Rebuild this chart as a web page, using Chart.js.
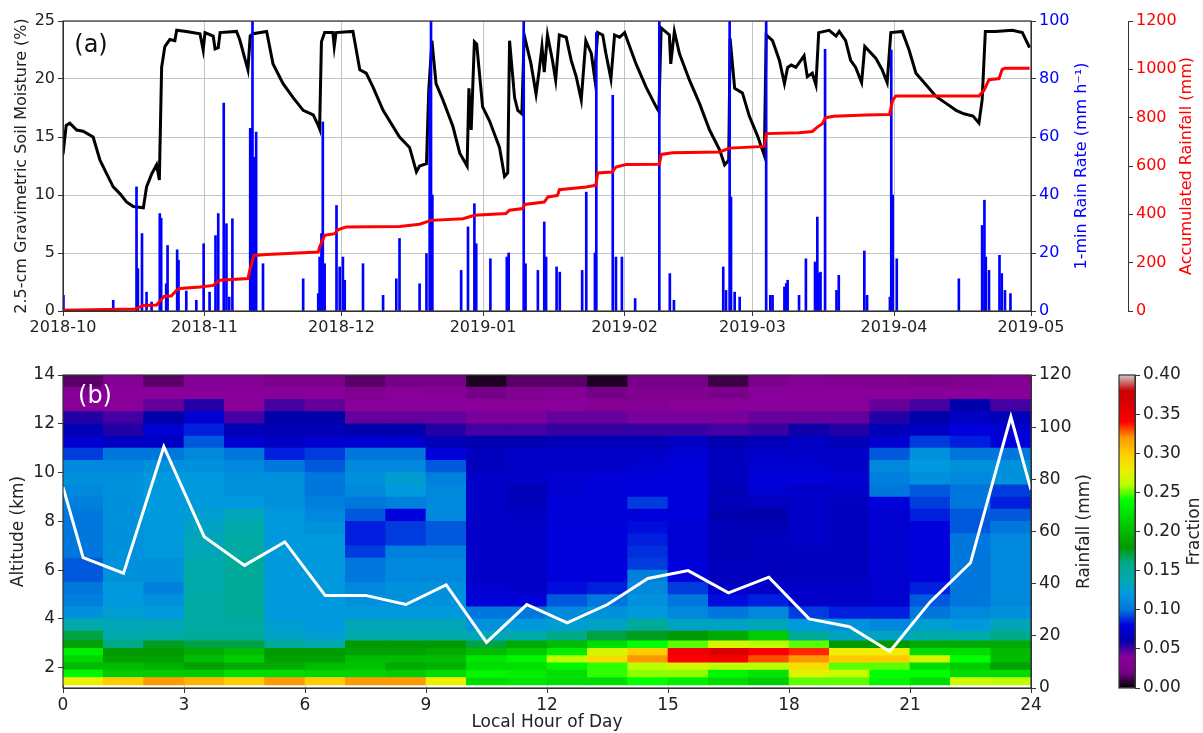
<!DOCTYPE html>
<html>
<head>
<meta charset="utf-8">
<script src="https://cdn.jsdelivr.net/npm/chart.js@4.4.0/dist/chart.umd.min.js"></script>
<style>
  html, body { margin: 0; padding: 0; background: #fff; }
  body { width: 1203px; height: 733px; position: relative; overflow: hidden; }
  canvas { position: absolute; }
  #top { left: 0; top: 0; }
  #bottom { left: 0; top: 345px; }
  #cbar { left: 1100px; top: 345px; }
</style>
</head>
<body>
<canvas id="top" width="1203" height="345"></canvas>
<canvas id="bottom" width="1100" height="388"></canvas>
<canvas id="cbar" width="103" height="388"></canvas>
<script>
// ---- panel (a): days since 2018-10-01 ----
const monthDays = [0, 31, 61, 92, 123, 151, 182, 212];
const monthLabels = ['2018-10', '2018-11', '2018-12', '2019-01', '2019-02', '2019-03', '2019-04', '2019-05'];

const smDay = [0, 0.7, 1.5, 3, 4.4, 6.6, 8.1, 9.6, 11, 12.5, 13.9, 15.4, 17.6, 18.3, 19.4, 20.5, 21.1, 21.6, 22.3, 23.4,
  24.5, 24.9, 27, 30, 30.7, 31.1, 32.9, 33.3, 34, 34.4, 38, 38.7, 39.8, 40.5, 41, 41.6, 44.6, 46, 48.2, 50.4,
  52.6, 54.8, 55.9, 56.2, 56.6, 57.3, 59.1, 59.4, 59.8, 63.5, 65, 66.4, 67.9, 70.1, 73.7, 75.9, 77.4, 78.1, 79.6, 80.1,
  80.8, 81.7, 83.2, 85.4, 86.9, 88.5, 88.9, 89.4, 90.1, 90.6, 91.9, 93.4, 95.6, 96.7, 97.4, 97.8, 98.9, 99.6, 100.5, 101,
  102.5, 103.6, 104.3, 104.9, 105.4, 106.1, 107.2, 107.9, 108.7, 110.2, 111.3, 112.4, 113.5, 114.5, 115.7, 116.4, 117.1, 118.2, 118.9, 120,
  120.8, 121.9, 123, 124.1, 125.5, 127.7, 129.9, 130.5, 131, 132.8, 133.1, 133.9, 135, 137.2, 139.4, 141.6, 143.8, 144.9, 145.8, 146.1,
  147.1, 148.8, 150.3, 152.1, 153.6, 154, 155.4, 156.9, 158, 158.7, 159.5, 160.5, 161.6, 162.3, 163, 164.1, 164.9, 165.5, 167.8, 169.3,
  170, 171.4, 172.5, 173.6, 174.9, 175.6, 178, 179.4, 180.5, 181.3, 183.8, 185.3, 186.8, 189, 191.2, 193.4, 195.6, 197.3, 199.3, 200.6,
  201.3, 202, 204.2, 207.9, 210.1, 211.7];
const smValue = [13.5, 16.0, 16.2, 15.6, 15.5, 15.0, 13.0, 11.8, 10.7, 10.1, 9.4, 9.0, 8.9, 10.7, 11.8, 12.6, 11.3, 21.0, 22.8, 23.4,
  23.3, 24.2, 24.1, 23.9, 22.5, 24.0, 23.7, 22.6, 22.7, 24.0, 24.1, 23.4, 21.8, 20.8, 23.7, 23.9, 24.1, 21.3, 19.6, 18.4,
  17.3, 16.9, 16.0, 15.7, 23.2, 24.0, 24.0, 22.8, 24.0, 24.1, 20.8, 20.5, 19.3, 17.3, 15.0, 14.1, 12.0, 12.5, 12.7, 19.0,
  23.3, 19.6, 18.2, 15.9, 13.6, 12.5, 19.2, 15.6, 23.2, 23.0, 17.6, 16.4, 14.1, 11.6, 11.9, 23.3, 18.4, 17.3, 17.0, 23.8,
  21.3, 18.7, 20.8, 22.8, 20.6, 23.8, 21.6, 19.9, 23.8, 23.6, 21.6, 20.2, 18.2, 23.3, 22.2, 20.2, 24.0, 23.8, 22.2, 20.0,
  23.8, 23.6, 24.0, 22.8, 21.3, 19.3, 17.6, 17.2, 24.4, 23.8, 21.3, 24.1, 22.2, 19.9, 17.9, 15.6, 13.9, 12.6, 13.0, 23.5,
  19.2, 18.8, 16.8, 15.1, 13.4, 23.8, 23.3, 21.6, 19.6, 21.0, 21.2, 21.0, 21.6, 22.0, 20.2, 20.5, 19.5, 24.0, 24.2, 23.7,
  24.1, 23.3, 21.6, 21.0, 19.7, 22.8, 21.8, 20.8, 19.7, 24.0, 24.1, 22.5, 20.5, 19.5, 18.5, 17.9, 17.3, 17.0, 16.8, 16.2,
  18.2, 24.1, 24.1, 24.2, 24.0, 22.7];

const accDay = [0, 15.8, 17.6, 20.5, 21.4, 22.1, 23.7, 24.9, 25.6, 30, 32.9, 34.3, 40.5, 40.9, 41.8, 44.6, 55.9, 56.2, 57.3, 59.5,
  60.2, 62, 73.7, 78.1, 80.6, 87.6, 90.1, 97, 97.8, 100.7, 101.1, 105.4, 106.2, 108.3, 108.7, 114.6, 116.7, 117.1, 120.3, 121.1,
  123.3, 130.6, 131, 133.5, 143.8, 146, 153.6, 154, 161.2, 164.1, 165.2, 166.3, 167, 168.8, 175.8, 181, 181.7, 182.4, 200.6, 201.7,
  202.8, 205, 205.7, 206.3, 211.7];
const accValue = [3, 8, 23, 25, 44, 60, 62, 86, 93, 99, 106, 127, 134, 168, 230, 234, 244, 265, 313, 320,
  336, 348, 350, 359, 375, 382, 396, 403, 417, 424, 441, 451, 472, 478, 502, 513, 520, 571, 575, 596,
  606, 607, 648, 655, 658, 674, 681, 734, 738, 743, 761, 775, 800, 806, 811, 813, 872, 890, 890, 913,
  957, 962, 1000, 1005, 1005];

const rateDay = [0.1, 11, 16.1, 16.4, 17.3, 18.3, 19.4, 21.2, 21.5, 22.6, 22.9, 25, 25.3, 27, 29.2, 30.8, 32.1, 33.4, 34, 35.2,
  35.8, 36.4, 37.1, 41, 41.3, 41.5, 41.8, 42.3, 43.8, 52.6, 55.9, 56.2, 56.6, 56.9, 57.3, 59.9, 60.6, 61.3, 61.7, 65.7,
  70.1, 73, 73.7, 78.1, 79.6, 80.3, 80.6, 80.9, 87.2, 88.7, 90.1, 90.5, 93.6, 97.2, 97.6, 100.9, 101.3, 104, 105.4, 105.8,
  108.1, 108.8, 113.7, 114.6, 116.5, 116.8, 120.4, 121.1, 122.4, 125.3, 130.6, 132.9, 133.8, 144.6, 145.2, 146, 146.3, 147.1, 148.2, 154,
  154.9, 155.4, 158, 158.4, 158.7, 161.2, 162.7, 164.7, 165.2, 165.5, 165.9, 166.9, 169.4, 169.9, 175.5, 176.1, 181.1, 181.4, 181.7, 182.6,
  196.2, 201.3, 201.8, 202.1, 202.8, 205.1, 205.6, 206.3, 207.5];
const rateValue = [5.4, 3.7, 42.8, 14.6, 26.7, 6.5, 3.1, 33.6, 32, 9.4, 22.6, 21.1, 17.5, 6.9, 3.7, 23.2, 6.5, 26, 33.6, 71.7,
  30.1, 4.8, 31.8, 63, 63, 100, 53, 61.7, 16.3, 11.1, 6, 18.6, 26.7, 65.2, 16.3, 36.4, 15.2, 18.6, 10.6, 16.3,
  5.4, 11.1, 25, 9.4, 19.8, 76.7, 100, 40, 14, 29, 37, 23.2, 18, 18.6, 20, 100, 16.3, 14, 30.7, 18.6,
  15.2, 13.4, 14, 41, 20, 96, 74.4, 18.6, 18.6, 4.3, 100, 12.9, 3.7, 15.2, 7.1, 100, 39.3, 6.5, 4.8, 100,
  5.4, 5.4, 8.3, 9.5, 10.6, 5.4, 18, 16.9, 32.4, 13, 13.4, 90.2, 7.1, 12.3, 20.7, 5.4, 4.8, 90, 40, 18,
  11.1, 29.5, 38.2, 18.6, 14, 19.2, 12.9, 7.1, 6];

// ---- panel (b) ----
const hourTicks = [0, 3, 6, 9, 12, 15, 18, 21, 24];
const altTicks = [2, 4, 6, 8, 10, 12, 14];
const hours = [0, 1, 2, 3, 4, 5, 6, 7, 8, 9, 10, 11, 12, 13, 14, 15, 16, 17, 18, 19, 20, 21, 22, 23];
const altEdges = [1.3, 1.6, 1.9, 2.2, 2.5, 2.8, 3.1, 3.5, 4.0, 4.5, 5.0, 5.5, 6.0, 6.5, 7.0, 7.5, 8.0, 8.5, 9.0, 9.5,
  10.0, 10.5, 11.0, 11.5, 12.0, 12.5, 13.0, 13.5, 14.0];
// fraction per hour (rows) and altitude bin (columns, bottom to top)
const fraction = [
  [0.28, 0.235, 0.20, 0.215, 0.23, 0.185, 0.17, 0.14, 0.115, 0.105, 0.10, 0.095, 0.095, 0.10, 0.10, 0.10, 0.10, 0.105, 0.11, 0.115, 0.11, 0.09, 0.075, 0.065, 0.055, 0.04, 0.035, 0.015],
  [0.30, 0.21, 0.20, 0.185, 0.18, 0.16, 0.14, 0.135, 0.125, 0.12, 0.12, 0.115, 0.115, 0.115, 0.115, 0.115, 0.115, 0.115, 0.115, 0.115, 0.11, 0.10, 0.07, 0.055, 0.05, 0.04, 0.04, 0.035],
  [0.32, 0.21, 0.195, 0.185, 0.18, 0.175, 0.145, 0.135, 0.12, 0.115, 0.105, 0.115, 0.115, 0.12, 0.12, 0.12, 0.12, 0.12, 0.12, 0.12, 0.115, 0.10, 0.07, 0.075, 0.06, 0.045, 0.04, 0.015],
  [0.31, 0.21, 0.185, 0.20, 0.19, 0.17, 0.15, 0.145, 0.145, 0.145, 0.14, 0.14, 0.14, 0.135, 0.135, 0.13, 0.125, 0.12, 0.12, 0.12, 0.115, 0.11, 0.095, 0.085, 0.075, 0.055, 0.04, 0.035],
  [0.30, 0.22, 0.19, 0.21, 0.20, 0.17, 0.15, 0.145, 0.15, 0.15, 0.15, 0.15, 0.15, 0.145, 0.145, 0.14, 0.135, 0.12, 0.115, 0.115, 0.11, 0.10, 0.075, 0.065, 0.05, 0.04, 0.04, 0.035],
  [0.32, 0.22, 0.19, 0.185, 0.18, 0.15, 0.13, 0.125, 0.12, 0.12, 0.12, 0.12, 0.12, 0.12, 0.12, 0.12, 0.12, 0.115, 0.115, 0.115, 0.10, 0.085, 0.07, 0.065, 0.06, 0.05, 0.04, 0.025],
  [0.30, 0.215, 0.20, 0.185, 0.18, 0.14, 0.125, 0.12, 0.12, 0.12, 0.12, 0.12, 0.12, 0.12, 0.12, 0.115, 0.11, 0.105, 0.10, 0.10, 0.095, 0.09, 0.075, 0.065, 0.06, 0.045, 0.04, 0.025],
  [0.32, 0.215, 0.205, 0.20, 0.185, 0.18, 0.14, 0.135, 0.12, 0.115, 0.11, 0.10, 0.10, 0.09, 0.085, 0.085, 0.095, 0.10, 0.11, 0.115, 0.11, 0.10, 0.075, 0.06, 0.045, 0.04, 0.03, 0.015],
  [0.32, 0.21, 0.19, 0.20, 0.185, 0.18, 0.14, 0.135, 0.12, 0.115, 0.115, 0.11, 0.11, 0.105, 0.09, 0.09, 0.08, 0.105, 0.12, 0.125, 0.11, 0.10, 0.075, 0.06, 0.045, 0.04, 0.04, 0.02],
  [0.28, 0.22, 0.195, 0.20, 0.19, 0.18, 0.14, 0.135, 0.12, 0.115, 0.115, 0.11, 0.11, 0.105, 0.095, 0.095, 0.11, 0.11, 0.11, 0.105, 0.095, 0.08, 0.065, 0.055, 0.045, 0.04, 0.035, 0.02],
  [0.22, 0.235, 0.22, 0.225, 0.20, 0.17, 0.135, 0.115, 0.10, 0.078, 0.075, 0.072, 0.072, 0.072, 0.072, 0.072, 0.072, 0.072, 0.072, 0.072, 0.068, 0.068, 0.062, 0.05, 0.042, 0.04, 0.02, 0.005],
  [0.225, 0.23, 0.22, 0.235, 0.21, 0.19, 0.14, 0.12, 0.10, 0.078, 0.072, 0.072, 0.072, 0.072, 0.072, 0.072, 0.07, 0.066, 0.066, 0.072, 0.072, 0.072, 0.062, 0.05, 0.042, 0.04, 0.03, 0.015],
  [0.22, 0.22, 0.235, 0.26, 0.23, 0.20, 0.16, 0.125, 0.11, 0.095, 0.082, 0.08, 0.08, 0.08, 0.08, 0.078, 0.078, 0.078, 0.075, 0.075, 0.072, 0.072, 0.066, 0.052, 0.045, 0.04, 0.035, 0.015],
  [0.22, 0.245, 0.245, 0.29, 0.27, 0.22, 0.17, 0.13, 0.115, 0.10, 0.085, 0.08, 0.08, 0.08, 0.08, 0.08, 0.078, 0.078, 0.078, 0.078, 0.072, 0.072, 0.066, 0.052, 0.045, 0.035, 0.02, 0.005],
  [0.24, 0.255, 0.26, 0.32, 0.30, 0.24, 0.175, 0.15, 0.12, 0.115, 0.11, 0.105, 0.09, 0.088, 0.085, 0.082, 0.08, 0.09, 0.08, 0.08, 0.075, 0.072, 0.066, 0.052, 0.042, 0.035, 0.03, 0.02],
  [0.23, 0.255, 0.27, 0.34, 0.35, 0.25, 0.18, 0.13, 0.11, 0.10, 0.09, 0.08, 0.08, 0.076, 0.076, 0.076, 0.08, 0.08, 0.08, 0.08, 0.08, 0.075, 0.07, 0.052, 0.042, 0.04, 0.03, 0.02],
  [0.22, 0.235, 0.26, 0.345, 0.36, 0.27, 0.19, 0.13, 0.10, 0.082, 0.072, 0.068, 0.068, 0.066, 0.066, 0.066, 0.062, 0.066, 0.066, 0.068, 0.068, 0.068, 0.062, 0.05, 0.042, 0.04, 0.025, 0.01],
  [0.21, 0.225, 0.26, 0.33, 0.345, 0.26, 0.21, 0.135, 0.11, 0.085, 0.072, 0.068, 0.068, 0.068, 0.068, 0.064, 0.06, 0.068, 0.075, 0.078, 0.075, 0.072, 0.066, 0.052, 0.045, 0.04, 0.04, 0.025],
  [0.25, 0.275, 0.29, 0.32, 0.335, 0.25, 0.15, 0.12, 0.09, 0.072, 0.072, 0.068, 0.068, 0.068, 0.072, 0.072, 0.072, 0.072, 0.072, 0.078, 0.075, 0.072, 0.07, 0.058, 0.045, 0.04, 0.04, 0.035],
  [0.25, 0.265, 0.25, 0.30, 0.28, 0.18, 0.13, 0.115, 0.085, 0.072, 0.072, 0.068, 0.068, 0.068, 0.068, 0.068, 0.068, 0.068, 0.072, 0.075, 0.072, 0.072, 0.066, 0.055, 0.045, 0.04, 0.04, 0.03],
  [0.235, 0.24, 0.25, 0.30, 0.28, 0.18, 0.13, 0.11, 0.085, 0.075, 0.075, 0.075, 0.075, 0.075, 0.075, 0.075, 0.075, 0.08, 0.10, 0.105, 0.11, 0.095, 0.075, 0.065, 0.055, 0.045, 0.04, 0.03],
  [0.22, 0.24, 0.22, 0.27, 0.22, 0.19, 0.14, 0.125, 0.10, 0.095, 0.085, 0.08, 0.08, 0.08, 0.08, 0.08, 0.085, 0.09, 0.095, 0.115, 0.12, 0.115, 0.09, 0.07, 0.06, 0.05, 0.04, 0.025],
  [0.265, 0.22, 0.21, 0.24, 0.22, 0.19, 0.14, 0.12, 0.11, 0.10, 0.10, 0.10, 0.10, 0.10, 0.10, 0.095, 0.095, 0.10, 0.10, 0.11, 0.115, 0.10, 0.085, 0.08, 0.07, 0.06, 0.04, 0.03],
  [0.26, 0.22, 0.185, 0.20, 0.20, 0.19, 0.16, 0.135, 0.115, 0.11, 0.11, 0.11, 0.11, 0.11, 0.11, 0.10, 0.095, 0.085, 0.09, 0.115, 0.115, 0.10, 0.08, 0.075, 0.065, 0.05, 0.04, 0.035]
];
const lineHour = [0, 0.5, 1.5, 2.5, 3.5, 4.5, 5.5, 6.5, 7.5, 8.5, 9.5, 10.5, 11.5, 12.5, 13.5, 14.5, 15.5, 16.5, 17.5, 18.5,
  19.5, 20.5, 21.5, 22.5, 23.5, 24];
const lineRain = [77, 50, 44, 92.5, 58, 47, 56, 35.5, 35.5, 32, 39.5, 17.5, 32, 25, 32, 42, 45, 36.5, 42.5, 26.5,
  23.5, 14, 33, 48, 104, 76];

// nipy_spectral colour stops
const nipy = [[0, 0, 0, 0], [0.05, .4667, 0, .5333], [0.1, .5333, 0, .6], [0.15, 0, 0, .6667], [0.2, 0, 0, .8667],
  [0.25, 0, .4667, .8667], [0.3, 0, .6, .8667], [0.35, 0, .6667, .6667], [0.4, 0, .6667, .5333], [0.45, 0, .6, 0],
  [0.5, 0, .7333, 0], [0.55, 0, .8667, 0], [0.6, 0, 1, 0], [0.65, .7333, 1, 0], [0.7, .9333, .9333, 0], [0.75, 1, .8, 0],
  [0.8, 1, .6, 0], [0.85, 1, 0, 0], [0.9, .8667, 0, 0], [0.95, .8, 0, 0], [1, .8, .8, .8]];
const FMAX = 0.4;

function rgb(r, g, b) {
  return 'rgb(' + Math.round(r * 255) + ',' + Math.round(g * 255) + ',' + Math.round(b * 255) + ')';
}
function cmap(t) {
  t = Math.max(0, Math.min(1, t));
  for (let i = 1; i < nipy.length; i++) {
    if (t <= nipy[i][0]) {
      const a = nipy[i - 1], b = nipy[i];
      const k = (t - a[0]) / (b[0] - a[0]);
      return rgb(a[1] + (b[1] - a[1]) * k, a[2] + (b[2] - a[2]) * k, a[3] + (b[3] - a[3]) * k);
    }
  }
  return rgb(.8, .8, .8);
}

Chart.defaults.font.family = "'DejaVu Sans', sans-serif";
Chart.defaults.color = '#222';
Chart.defaults.animation = false;
Chart.defaults.plugins.legend.display = false;
Chart.defaults.plugins.tooltip.enabled = false;

const AX = '#333';

// box round the plot area, like matplotlib spines
const frame = {
  id: 'frame',
  afterDraw(chart) {
    const {ctx, chartArea: a} = chart;
    ctx.save();
    ctx.strokeStyle = AX;
    ctx.lineWidth = 1.2;
    ctx.strokeRect(a.left, a.top, a.right - a.left, a.bottom - a.top);
    ctx.restore();
  }
};

// right-hand axis titles read bottom-to-top, plus the panel letter
const sideTitles = {
  id: 'sideTitles',
  afterDraw(chart, args, opts) {
    const {ctx, chartArea: a} = chart;
    (opts.items || []).forEach(it => {
      const s = chart.scales[it.axis];
      ctx.save();
      ctx.translate(s.left + it.dx, (a.top + a.bottom) / 2);
      ctx.rotate(-Math.PI / 2);
      ctx.font = it.size + "px 'DejaVu Sans'";
      ctx.fillStyle = it.color;
      ctx.textAlign = 'center';
      ctx.textBaseline = 'middle';
      ctx.fillText(it.text, 0, 0);
      ctx.restore();
    });
    if (opts.panel) {
      const p = opts.panel;
      ctx.save();
      ctx.font = p.size + "px 'DejaVu Sans'";
      ctx.fillStyle = p.color;
      ctx.textAlign = 'center';
      ctx.textBaseline = 'middle';
      ctx.fillText(p.text, a.left + p.dx, a.top + p.dy);
      ctx.restore();
    }
  }
};

const plain = v => String(v);

// ---------- top chart ----------
new Chart(document.getElementById('top'), {
  type: 'line',
  data: {
    datasets: [
      {
        label: 'Soil moisture',
        data: smDay.map((d, i) => ({x: d, y: smValue[i]})),
        yAxisID: 'y',
        borderColor: '#000',
        borderWidth: 3,
        pointRadius: 0,
        order: 3
      },
      {
        type: 'bar',
        label: 'Rain rate',
        data: rateDay.map((d, i) => ({x: d, y: rateValue[i]})),
        yAxisID: 'y1',
        backgroundColor: '#0000ff',
        barThickness: 2,
        order: 2
      },
      {
        label: 'Accumulated rainfall',
        data: accDay.map((d, i) => ({x: d, y: accValue[i]})),
        yAxisID: 'y2',
        borderColor: '#ff0000',
        borderWidth: 3,
        pointRadius: 0,
        order: 1
      }
    ]
  },
  options: {
    responsive: false,
    layout: {padding: {top: 21, left: 0, right: 0, bottom: 0}},
    scales: {
      x: {
        type: 'linear', min: 0, max: 212, offset: false,
        afterBuildTicks: s => { s.ticks = monthDays.map(v => ({value: v})); },
        afterFit: s => { s.height = 34; },
        ticks: {callback: (v, i) => monthLabels[i], autoSkip: false, maxRotation: 0, padding: 2, font: {size: 16}},
        grid: {color: '#c4c4c4', tickColor: AX, tickLength: 5, offset: false},
        border: {color: AX}
      },
      y: {
        position: 'left', min: 0, max: 25,
        ticks: {stepSize: 5, padding: 3, font: {size: 16}, callback: plain},
        grid: {color: '#c4c4c4', tickColor: AX, tickLength: 5},
        border: {color: AX},
        title: {display: true, text: '2.5-cm Gravimetric Soil Moisture (%)', font: {size: 16}, padding: {top: 12, bottom: 0}},
        afterFit: s => { s.width = 63; }
      },
      y1: {
        position: 'right', min: 0, max: 100,
        ticks: {stepSize: 20, color: '#0000ff', padding: 3, font: {size: 16}, callback: plain},
        grid: {drawOnChartArea: false, tickColor: AX, tickLength: 5},
        border: {color: AX},
        afterFit: s => { s.width = 97; }
      },
      y2: {
        position: 'right', weight: 1, min: 0, max: 1200,
        ticks: {stepSize: 200, color: '#ff0000', padding: 3, font: {size: 16}, callback: plain},
        grid: {drawOnChartArea: false, tickColor: AX, tickLength: 5},
        border: {color: AX},
        afterFit: s => { s.width = 75; }
      }
    },
    plugins: {
      sideTitles: {
        items: [
          {axis: 'y1', text: '1-min Rain Rate (mm h\u207B\u00B9)', dx: 51, size: 16, color: '#0000ff'},
          {axis: 'y2', text: 'Accumulated Rainfall (mm)', dx: 59, size: 16, color: '#ff0000'}
        ],
        panel: {text: '(a)', dx: 28, dy: 25, size: 24, color: '#111'}
      }
    }
  },
  plugins: [frame, sideTitles]
});

// ---------- bottom chart ----------
const heatSets = altEdges.slice(0, -1).map((lo, r) => ({
  type: 'bar',
  label: 'alt ' + lo,
  data: hours.map(h => ({x: h + 0.5, y: [lo, altEdges[r + 1]]})),
  backgroundColor: hours.map(h => cmap(fraction[h][r] / FMAX)),
  grouped: false,
  barPercentage: 1,
  categoryPercentage: 1,
  borderWidth: 0,
  yAxisID: 'y',
  order: 1
}));

new Chart(document.getElementById('bottom'), {
  type: 'line',
  data: {
    datasets: heatSets.concat([{
      type: 'line',
      label: 'Rainfall',
      data: lineHour.map((h, i) => ({x: h, y: lineRain[i]})),
      yAxisID: 'y2',
      borderColor: '#ffffff',
      borderWidth: 3,
      pointRadius: 0,
      order: 0
    }])
  },
  options: {
    responsive: false,
    layout: {padding: {top: 30, left: 0, right: 0, bottom: 0}},
    scales: {
      x: {
        type: 'linear', min: 0, max: 24, offset: false, z: 1,
        afterBuildTicks: s => { s.ticks = hourTicks.map(v => ({value: v})); },
        afterFit: s => { s.height = 45; },
        ticks: {autoSkip: false, maxRotation: 0, padding: 2, font: {size: 17}},
        grid: {color: 'rgba(200,200,200,0.85)', tickColor: AX, tickLength: 5, offset: false},
        border: {color: AX},
        title: {display: true, text: 'Local Hour of Day', font: {size: 17}, padding: {top: 0, bottom: 0}}
      },
      y: {
        position: 'left', min: 1.17, max: 14, z: 1,
        afterBuildTicks: s => { s.ticks = altTicks.map(v => ({value: v})); },
        ticks: {padding: 3, font: {size: 17}},
        grid: {color: 'rgba(200,200,200,0.85)', tickColor: AX, tickLength: 5},
        border: {color: AX},
        title: {display: true, text: 'Altitude (km)', font: {size: 17}, padding: {top: 8, bottom: 0}},
        afterFit: s => { s.width = 63; }
      },
      y2: {
        position: 'right', min: 0, max: 120, z: 1,
        ticks: {stepSize: 20, padding: 3, font: {size: 17}, callback: plain},
        grid: {drawOnChartArea: false, tickColor: AX, tickLength: 5},
        border: {color: AX},
        afterFit: s => { s.width = 69; }
      }
    },
    plugins: {
      sideTitles: {
        items: [{axis: 'y2', text: 'Rainfall (mm)', dx: 54, size: 17, color: '#222'}],
        panel: {text: '(b)', dx: 32, dy: 22, size: 24, color: '#ffffff'}
      }
    }
  },
  plugins: [frame, sideTitles]
});

// ---------- colour bar ----------
new Chart(document.getElementById('cbar'), {
  type: 'bar',
  data: {
    labels: ['Fraction'],
    datasets: [{
      data: [[0, FMAX]],
      backgroundColor: c => {
        const a = c.chart.chartArea;
        if (!a) return '#000';
        const g = c.chart.ctx.createLinearGradient(0, a.bottom, 0, a.top);
        nipy.forEach(s => g.addColorStop(s[0], rgb(s[1], s[2], s[3])));
        return g;
      },
      barPercentage: 1,
      categoryPercentage: 1,
      borderWidth: 0
    }]
  },
  options: {
    responsive: false,
    layout: {padding: {top: 30, left: 19, right: 0, bottom: 45}},
    scales: {
      x: {display: false},
      y: {
        position: 'right', min: 0, max: FMAX,
        ticks: {stepSize: 0.05, callback: v => v.toFixed(2), padding: 3, font: {size: 17}},
        grid: {drawOnChartArea: false, tickColor: AX, tickLength: 5},
        border: {color: AX},
        afterFit: s => { s.width = 68; }
      }
    },
    plugins: {
      sideTitles: {items: [{axis: 'y', text: 'Fraction', dx: 60, size: 17, color: '#222'}]}
    }
  },
  plugins: [frame, sideTitles]
});
</script>
</body>
</html>
